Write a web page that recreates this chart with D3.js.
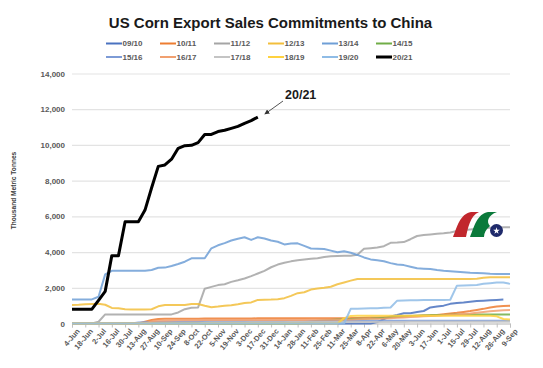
<!DOCTYPE html>
<html><head><meta charset="utf-8">
<script src="https://cdnjs.cloudflare.com/ajax/libs/d3/7.8.5/d3.min.js"></script>
<style>body{margin:0;background:#fff}svg{display:block;font-family:"Liberation Sans",Arial,sans-serif}</style>
</head><body><svg id="c" width="543" height="368"></svg>
<script>
const weekLabels = ["4-Jun","18-Jun","2-Jul","16-Jul","30-Jul","13-Aug","27-Aug","10-Sep","24-Sep","8-Oct","22-Oct","5-Nov","19-Nov","3-Dec","17-Dec","31-Dec","14-Jan","28-Jan","11-Feb","25-Feb","11-Mar","25-Mar","8-Apr","22-Apr","6-May","20-May","3-Jun","17-Jun","1-Jul","15-Jul","29-Jul","12-Aug","26-Aug","9-Sep"];
const seasons = ["09/10","10/11","11/12","12/13","13/14","14/15","15/16","16/17","17/18","18/19","19/20","20/21"];
const yTicks = [0,2000,4000,6000,8000,10000,12000,14000];

const s0910 = [0,0,0,0,0,0,0,0,0,0, 0,0,0,0,0,0,0,0,0,0, 0,0,0,0,0,0,0,0,0,0, 0,0,0,0,0,0,0,0,0,0, 0,0,0,0,0,0,80,250,400,480, 570,580,640,700,900,950,1000,1100,1150,1180, 1220,1260,1280,1300,1320,1340,null];
const s1011 = [0,0,0,0,0,0,0,0,0,0, 0,100,200,250,260,260,270,270,270,270, 280,280,280,280,280,280,280,280,290,290, 290,290,290,290,290,290,300,300,300,300, 300,300,310,310,320,330,340,350,360,380, 400,420,440,450,460,480,520,560,600,650, 700,760,820,900,950,980,990];
const s1112 = [0,0,0,0,100,510,510,510,510,510, 510,510,510,510,510,510,620,800,880,900, 1950,2050,2150,2200,2330,2420,2520,2650,2800,2950, 3150,3300,3400,3480,3540,3580,3620,3660,3720,3760, 3780,3790,3800,3850,4180,4220,4260,4330,4520,4530, 4560,4720,4900,4950,4990,5020,5050,5100,5180,5230, 5270,5300,5330,5360,5380,5390,5390];
const s1213 = [1036,1050,1080,1090,1100,1050,870,850,800,790, 790,790,800,960,1030,1040,1040,1040,1090,1090, 990,910,950,1000,1020,1080,1150,1180,1320,1330, 1340,1360,1420,1550,1700,1750,1900,1960,2000,2060, 2200,2300,2400,2490,2490,2490,2490,2490,2490,2490, 2490,2490,2490,2490,2490,2490,2490,2490,2490,2490, 2490,2500,2560,2590,2590,2590,2590];
const s1314 = [1350,1350,1350,1350,1500,2750,2950,2950,2950,2960, 2960,2960,3000,3120,3130,3220,3330,3460,3650,3650, 3650,4210,4380,4500,4650,4750,4830,4680,4830,4760, 4650,4580,4430,4480,4490,4350,4200,4190,4170,4080, 3990,4050,3960,3840,3700,3590,3540,3490,3380,3300, 3270,3180,3090,3070,3050,3000,2960,2930,2900,2870, 2845,2830,2810,2780,2770,2770,2770];
const s1415 = [0,0,0,0,0,0,0,0,0,0, 0,0,0,0,0,0,0,0,0,0, 0,0,0,0,0,0,0,0,0,0, 0,0,0,0,0,50,100,150,180,200, 220,240,250,260,270,280,300,320,350,380, 400,420,440,450,460,470,480,490,500,500, 500,510,510,510,510,510,510];
const s1516 = [0,0,0,0,0,0,0,0,0,0, 60,70,80,90,100,100,100,110,110,110, 120,120,120,120,120,120,120,120,130,130, 130,130,130,130,130,130,140,140,140,140, 140,140,140,140,140,140,150,150,150,150, 150,150,150,150,150,150,150,150,150,150, 150,150,150,150,150,150,150];
const s1617 = [0,0,0,0,0,0,0,0,0,0, 0,0,120,150,160,170,180,180,180,180, 190,190,190,190,190,200,200,200,200,200, 200,200,200,200,200,200,210,210,210,210, 210,220,230,240,250,260,270,280,300,320, 340,360,380,400,420,440,460,480,500,530, 560,600,640,680,710,740,760];
const s1718 = [0,0,0,0,0,0,0,0,0,0, 0,0,0,0,0,0,0,0,0,0, 40,50,50,60,60,60,60,70,70,70, 70,70,70,80,80,80,80,80,80,80, 80,90,90,90,90,90,90,90,90,90, 90,100,100,100,100,100,100,100,100,100, 100,100,100,100,100,100,100];
const s1819 = [0,0,0,0,0,0,0,0,0,0, 0,0,0,0,0,0,0,0,0,0, 0,0,0,0,0,0,0,0,0,0, 0,0,0,0,0,0,0,0,0,0, 0,300,420,430,430,430,430,440,440,440, 440,440,440,440,440,440,440,440,440,440, 440,440,440,430,400,250,230];
const s1920 = [0,0,0,0,0,0,0,0,0,0, 0,0,0,0,0,0,0,0,0,0, 0,0,0,0,0,0,0,0,0,0, 0,0,0,0,0,0,0,0,0,0, 0,0,820,830,840,850,860,880,900,1280, 1290,1300,1300,1310,1310,1320,1320,1330,2120,2130, 2140,2150,2220,2260,2290,2300,2220];
const s2021 = [800,800,800,800,1300,1800,3800,3800,5700,5700, 5700,6350,7600,8800,8880,9200,9810,9960,9980,10130, 10580,10590,10750,10820,10930,11040,11210,11360,11560];

const seriesData = [s0910,s1011,s1112,s1213,s1314,s1415,s1516,s1617,s1718,s1819,s1920,s2021];
const colors = ["#4a72c0","#ED7D31","#A5A5A5","#F2BE3C","#6f9fd6","#70AD47","#7d9bd6","#F1A070","#C4C4C4","#FFD23F","#8FBCE6","#000000"];

const svg = d3.select("#c");
const x = d3.scaleLinear().domain([0,66]).range([72,510]);
const y = d3.scaleLinear().domain([0,14000]).range([323.5,73.5]);

// title
svg.append("text").attr("x",270.5).attr("y",28).attr("text-anchor","middle")
  .attr("font-size",15).attr("font-weight","bold").attr("fill","#1a1a1a")
  .text("US Corn Export Sales Commitments to China");

// legend
seasons.forEach((s,i)=>{
  const col = i%6, row = Math.floor(i/6);
  const lx = 106 + col*54, ly = 43.5 + row*13.5;
  const g = svg.append("g");
  g.append("line").attr("x1",lx).attr("x2",lx+16).attr("y1",ly).attr("y2",ly)
    .attr("stroke",colors[i]).attr("stroke-width", i===11?3:2);
  g.append("text").attr("x",lx+16.5).attr("y",ly+2.8).attr("font-size",8).attr("font-weight","bold")
    .attr("fill","#595959").text(s);
});

// gridlines + y labels
const yAxis = d3.axisLeft(y).tickValues(yTicks).tickFormat(d3.format(",")).tickSize(-(510-72)).tickPadding(7);
const gy = svg.append("g").attr("transform","translate(72,0)").call(yAxis);
gy.select(".domain").remove();
gy.selectAll(".tick line").attr("stroke","#e3e3e3").attr("stroke-width",1.2);
gy.selectAll(".tick text").attr("font-size",8).attr("font-weight","bold").attr("fill","#595959")
  .attr("font-family","'Liberation Sans',Arial,sans-serif");

// y title
svg.append("text").attr("transform","translate(16,190.5) rotate(-90)").attr("text-anchor","middle")
  .attr("font-size",6.6).attr("font-weight","bold").attr("fill","#404040").text("Thousand Metric Tonnes");

// x axis
const xAxis = d3.axisBottom(x).tickValues(d3.range(0,67,2)).tickFormat((d,i)=>weekLabels[i]).tickSize(4).tickPadding(2);
const gx = svg.append("g").attr("transform","translate(0,323.5)").call(xAxis);
gx.select(".domain").attr("stroke","#bfbfbf");
gx.selectAll(".tick line").attr("stroke","#bfbfbf");
gx.selectAll(".tick text").attr("font-size",7.5).attr("font-weight","bold").attr("fill","#595959")
  .attr("font-family","'Liberation Sans',Arial,sans-serif")
  .attr("text-anchor","end").attr("dy",0).attr("transform","translate(3,4) rotate(-50)");

// lines
const line = d3.line().defined(d=>d!==null).x((d,i)=>x(i)).y(d=>y(d));
seriesData.forEach((arr,i)=>{
  svg.append("path").datum(arr).attr("d", d3.line().defined(d=>d!==null).x((d,j)=>x(j)).y(d=>y(d)))
    .attr("fill","none").attr("stroke",colors[i]).attr("stroke-width", i===11?3:2)
    .attr("stroke-linejoin","round").attr("opacity", i===11?1:0.85);
});

// annotation
svg.append("defs").append("marker").attr("id","ah").attr("viewBox","0 0 10 10").attr("refX",9).attr("refY",5)
  .attr("markerWidth",5).attr("markerHeight",5).attr("orient","auto")
  .append("path").attr("d","M0,0L10,5L0,10z").attr("fill","#333");
svg.append("line").attr("x1",283).attr("y1",101).attr("x2",x(28)+7).attr("y2",y(s2021[28])-3)
  .attr("stroke","#555").attr("stroke-width",1).attr("marker-end","url(#ah)");
svg.append("text").attr("x",285).attr("y",99).attr("font-size",12.5).attr("font-weight","bold").attr("fill","#1a1a1a").text("20/21");

// logo
const lg = svg.append("g");
lg.append("path").attr("d","M453,237 C457,227 460,214 471,212 L479,212 C470,216 468,228 466,237 Z").attr("fill","#c1272d");
lg.append("path").attr("d","M470,237 C474,227 477,214 488,212 L497,212 C488,215 486,222 490,226 C486,229 484,233 484,237 Z").attr("fill","#0b7a3b");
lg.append("circle").attr("cx",496.5).attr("cy",230.5).attr("r",6.5).attr("fill","#1f2a6b");
lg.append("path").attr("d", d3.symbol(d3.symbolStar, 14)()).attr("transform","translate(496.5,230.8)").attr("fill","#fff");
</script></body></html>
